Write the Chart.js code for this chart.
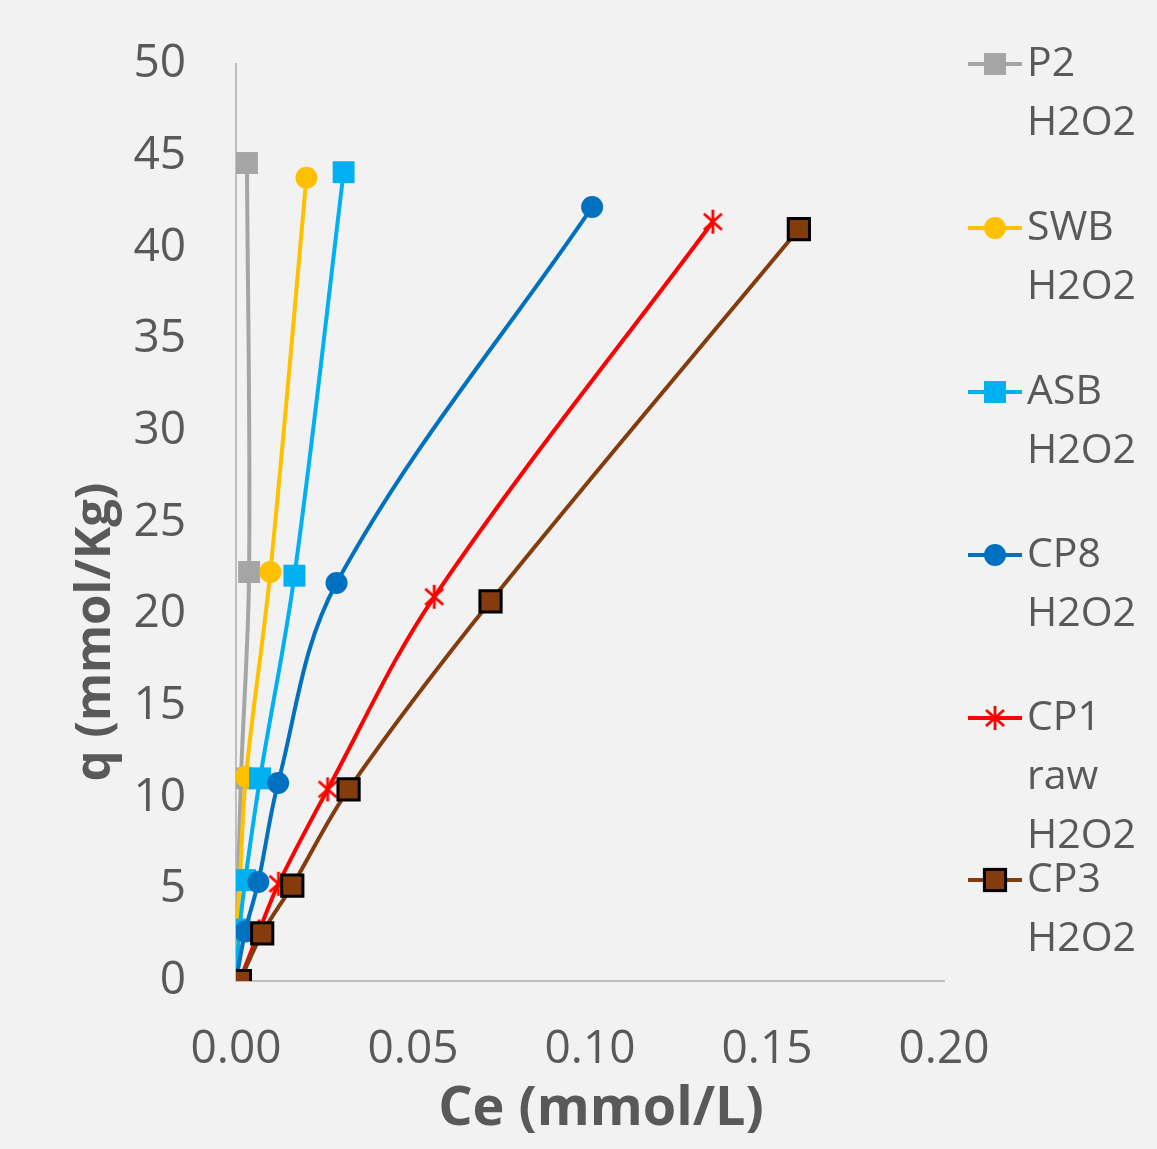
<!DOCTYPE html>
<html>
<head>
<meta charset="utf-8">
<script src="https://cdn.jsdelivr.net/npm/chart.js@4.4.1/dist/chart.umd.min.js"></script>
<style>
  html, body { margin: 0; padding: 0; background: #f2f2f2; }
  #wrap { width: 1157px; height: 1149px; position: relative; }
</style>
</head>
<body>
<div id="wrap"><canvas id="myChart" width="1157" height="1149"></canvas></div>
<script>
// values
var seriesNames = [['P2', 'H2O2'], ['SWB', 'H2O2'], ['ASB', 'H2O2'], ['CP8', 'H2O2'], ['CP1', 'raw', 'H2O2'], ['CP3', 'H2O2']];

var ceP2 = [0, 0, 0.0006, 0.0014, 0.0037, 0.0031];
var qP2 = [0, 2.8, 5.5, 11.05, 22.3, 44.6];

var ceSWB = [0, 0.0003, 0.0011, 0.0028, 0.0097, 0.0199];
var qSWB = [0, 2.8, 5.5, 11.15, 22.3, 43.8];

var ceASB = [0, 0.001, 0.0026, 0.0068, 0.0165, 0.0304];
var qASB = [0, 2.8, 5.5, 11.05, 22.1, 44.1];

var ceCP8 = [0, 0.0026, 0.0063, 0.0119, 0.0284, 0.1006];
var qCP8 = [0, 2.7, 5.4, 10.8, 21.7, 42.2];

var ceCP1 = [0.001, 0.0065, 0.012, 0.0259, 0.056, 0.1347];
var qCP1 = [0, 2.7, 5.3, 10.45, 20.95, 41.4];

var ceCP3 = [0.0011, 0.0074, 0.0159, 0.0318, 0.0719, 0.159];
var qCP3 = [0, 2.6, 5.2, 10.45, 20.7, 41.0];

var xTicks = [0, 0.05, 0.10, 0.15, 0.20];
var yTicks = [0, 5, 10, 15, 20, 25, 30, 35, 40, 45, 50];

var textColor = '#595959';

function toPoints(xs, ys) {
    var pts = [];
    for (var i = 0; i < xs.length; i++) {
        pts.push({x: xs[i], y: ys[i]});
    }
    return pts;
}

// Excel style star marker (X with a vertical bar)
function makeStar(color) {
    var c = document.createElement('canvas');
    c.width = 26; c.height = 26;
    var g = c.getContext('2d');
    g.strokeStyle = color;
    g.lineWidth = 2.8;
    g.beginPath();
    g.moveTo(4, 5); g.lineTo(22, 21);
    g.moveTo(22, 5); g.lineTo(4, 21);
    g.moveTo(13, 1); g.lineTo(13, 25);
    g.stroke();
    return c;
}
var starImg = makeStar('#ff0000');

var styles = [
    {color: '#a5a5a5', fill: '#a5a5a5', border: '#a5a5a5', shape: 'rect', r: 15.5, bw: 0},
    {color: '#ffc000', fill: '#ffc000', border: '#ffc000', shape: 'circle', r: 11, bw: 0},
    {color: '#00b0f0', fill: '#00b0f0', border: '#00b0f0', shape: 'rect', r: 15.5, bw: 0},
    {color: '#0070c0', fill: '#0070c0', border: '#0070c0', shape: 'circle', r: 11, bw: 0},
    {color: '#ff0000', fill: '#ff0000', border: '#ff0000', shape: starImg, r: 13, bw: 0},
    {color: '#843c0c', fill: '#843c0c', border: '#000000', shape: 'rect', r: 15, bw: 3}
];

var seriesData = [
    toPoints(ceP2, qP2), toPoints(ceSWB, qSWB), toPoints(ceASB, qASB),
    toPoints(ceCP8, qCP8), toPoints(ceCP1, qCP1), toPoints(ceCP3, qCP3)
];

var datasets = [];
for (var i = 0; i < seriesData.length; i++) {
    var s = styles[i];
    datasets.push({
        label: seriesNames[i].join(' '),
        data: seriesData[i],
        showLine: true,
        tension: 0.35,
        borderColor: s.color,
        borderWidth: 4,
        pointStyle: s.shape,
        pointRadius: s.r,
        pointHoverRadius: s.r,
        pointBackgroundColor: s.fill,
        pointBorderColor: s.border,
        pointBorderWidth: s.bw,
        order: seriesData.length - i
    });
}

// legend and axis titles drawn by hand so they sit where the original has them
var sideLegend = {
    id: 'sideLegend',
    afterDraw: function (chart) {
        var ctx = chart.ctx;
        var rowsY = [64, 228, 392, 555, 718, 880];
        ctx.save();
        ctx.font = '41px "Open Sans"';
        ctx.textBaseline = 'middle';
        ctx.textAlign = 'left';
        for (var i = 0; i < seriesNames.length; i++) {
            var s = styles[i];
            var y = rowsY[i];
            ctx.strokeStyle = s.color;
            ctx.lineWidth = 4;
            ctx.beginPath();
            ctx.moveTo(968, y);
            ctx.lineTo(1022, y);
            ctx.stroke();
            if (s.shape === 'rect') {
                var h = s.r * Math.SQRT1_2;
                ctx.fillStyle = s.fill;
                ctx.fillRect(995 - h, y - h, 2 * h, 2 * h);
                if (s.bw) {
                    ctx.strokeStyle = s.border;
                    ctx.lineWidth = s.bw;
                    ctx.strokeRect(995 - h, y - h, 2 * h, 2 * h);
                }
            } else if (s.shape === 'circle') {
                ctx.fillStyle = s.fill;
                ctx.beginPath();
                ctx.arc(995, y, s.r, 0, Math.PI * 2);
                ctx.fill();
            } else {
                ctx.drawImage(s.shape, 995 - 13, y - 13);
            }
            ctx.fillStyle = textColor;
            var lines = seriesNames[i];
            for (var k = 0; k < lines.length; k++) {
                ctx.fillText(lines[k], 1027, y + k * 59);
            }
        }
        ctx.fillStyle = textColor;
        ctx.textAlign = 'center';
        // x axis title
        ctx.font = 'bold 54px "Open Sans"';
        ctx.fillText('Ce (mmol/L)', 601, 1110);
        // y axis title
        ctx.translate(96, 632);
        ctx.rotate(-Math.PI / 2);
        ctx.font = 'bold 49px "Open Sans"';
        ctx.fillText('q (mmol/Kg)', 0, 0);
        ctx.restore();
    }
};

var ctx = document.getElementById('myChart').getContext('2d');
var myChart = new Chart(ctx, {
    type: 'scatter',
    data: {datasets: datasets},
    options: {
        responsive: false,
        animation: false,
        events: [],
        layout: {padding: {left: 0, right: 213, top: 64, bottom: 0}},
        plugins: {legend: {display: false}, tooltip: {enabled: false}},
        scales: {
            x: {
                type: 'linear',
                min: 0,
                max: 0.2,
                afterFit: function (scale) {
                    scale.height = 168;
                    scale.paddingLeft = 0;
                    scale.paddingRight = 0;
                },
                afterBuildTicks: function (scale) {
                    scale.ticks = xTicks.map(function (v) { return {value: v}; });
                },
                ticks: {
                    color: textColor,
                    font: {family: 'Open Sans', size: 46, lineHeight: 1.2},
                    padding: 41,
                    maxRotation: 0,
                    callback: function (v) { return Number(v).toFixed(2); }
                },
                grid: {display: false, drawTicks: false},
                border: {display: true, color: '#bfbfbf', width: 2}
            },
            y: {
                type: 'linear',
                min: 0,
                max: 50,
                afterFit: function (scale) {
                    scale.width = 236;
                    scale.paddingTop = 0;
                    scale.paddingBottom = 0;
                },
                afterBuildTicks: function (scale) {
                    scale.ticks = yTicks.map(function (v) { return {value: v}; });
                },
                ticks: {
                    color: textColor,
                    font: {family: 'Open Sans', size: 46, lineHeight: 1.2},
                    padding: 50
                },
                grid: {display: false, drawTicks: false},
                border: {display: true, color: '#bfbfbf', width: 2}
            }
        }
    },
    plugins: [sideLegend]
});
</script>
</body>
</html>
